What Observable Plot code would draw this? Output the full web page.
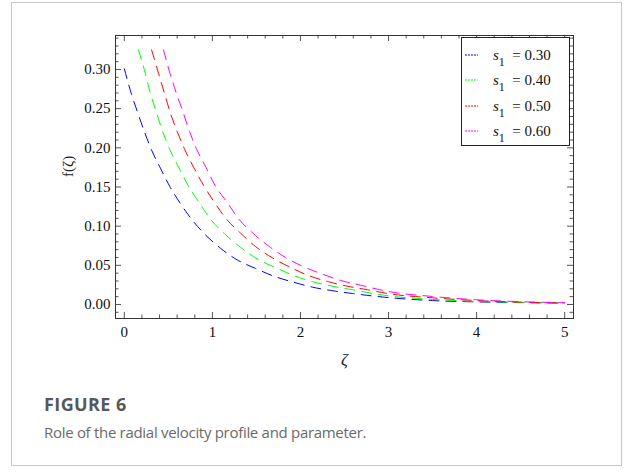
<!DOCTYPE html>
<html>
<head>
<meta charset="utf-8">
<script src="https://cdn.jsdelivr.net/npm/d3@7"></script>
<script src="https://cdn.jsdelivr.net/npm/@observablehq/plot@0.6"></script>
<style>
  body { margin: 0; background: #fff; }
  #wrap { position: relative; width: 624px; height: 472px; overflow: hidden; }
  #box { position: absolute; left: 11px; top: 2px; width: 611px; height: 464px; border: 1px solid #c8c8c8; box-sizing: border-box; }
  #chart { position: absolute; left: 0; top: 0; }
  #legend { position: absolute; left: 461px; top: 37px; width: 109px; height: 109px; border: 1px solid #222; box-sizing: border-box; background: #fff; font-family: "Liberation Serif", serif; font-size: 15px; color: #111; }
  .row { position: absolute; left: 0; height: 20px; line-height: 20px; white-space: nowrap; }
  .row svg { position: absolute; left: 3px; top: 9px; }
  .row .lab { position: absolute; left: 31px; top: 0; }
  .row sub { font-size: 12px; vertical-align: -6px; line-height: 0; }
  #fig { position: absolute; left: 44px; top: 396px; font-family: "Open Sans", sans-serif; font-weight: 700; font-size: 18px; line-height: 17px; letter-spacing: 0.4px; color: #585858; }
  #cap { position: absolute; left: 44px; top: 425px; font-family: "Open Sans", sans-serif; font-size: 15px; line-height: 15px; letter-spacing: -0.3px; color: #6a6a6a; }
</style>
</head>
<body>
<div id="wrap">
  <div id="box"></div>
  <div id="chart"></div>
  <div id="legend"></div>
  <div id="fig">FIGURE 6</div>
  <div id="cap">Role of the radial velocity profile and parameter.</div>
</div>
<script>
// ---- data ----
const seriesNames = ["0.30", "0.40", "0.50", "0.60"];
const seriesColors = ["#0000ff", "#00ff00", "#ff0000", "#ff00ff"];

const zetaS030 = [0, 0.08, 0.155, 0.23, 0.31, 0.41, 0.515, 0.636, 0.77, 0.92, 1.09, 1.28, 1.49, 1.70, 1.92, 2.14, 2.37, 2.59, 3.0, 3.5, 4.0, 4.5, 5.0];
const fS030    = [0.301, 0.269, 0.244, 0.220, 0.197, 0.174, 0.151, 0.129, 0.108, 0.089, 0.072, 0.057, 0.046, 0.036, 0.0285, 0.022, 0.0175, 0.014, 0.0088, 0.005, 0.0033, 0.0024, 0.0018];

const zetaS040 = [0.16, 0.24, 0.295, 0.364, 0.435, 0.52, 0.62, 0.73, 0.856, 0.985, 1.15, 1.32, 1.51, 1.72, 1.92, 2.14, 2.38, 2.59, 3.0, 3.5, 4.0, 4.5, 5.0];
const fS040    = [0.325, 0.2945, 0.270, 0.2455, 0.221, 0.197, 0.1745, 0.151, 0.129, 0.108, 0.089, 0.073, 0.058, 0.047, 0.037, 0.029, 0.023, 0.0188, 0.011, 0.0065, 0.0039, 0.0026, 0.0019];

const zetaS050 = [0.31, 0.39, 0.455, 0.52, 0.60, 0.69, 0.79, 0.90, 1.02, 1.16, 1.32, 1.49, 1.68, 1.88, 2.09, 2.32, 2.53, 2.76, 3.0, 3.5, 4.0, 4.5, 5.0];
const fS050    = [0.325, 0.2945, 0.270, 0.2455, 0.221, 0.197, 0.1745, 0.152, 0.131, 0.109, 0.091, 0.074, 0.0596, 0.0477, 0.037, 0.029, 0.0234, 0.0188, 0.0138, 0.0085, 0.005, 0.003, 0.002];

const zetaS060 = [0.445, 0.52, 0.59, 0.667, 0.74, 0.826, 0.93, 1.03, 1.17, 1.30, 1.46, 1.64, 1.83, 2.03, 2.25, 2.46, 2.68, 3.0, 3.5, 4.0, 4.5, 5.0];
const fS060    = [0.325, 0.2945, 0.270, 0.2455, 0.221, 0.197, 0.1745, 0.152, 0.130, 0.109, 0.091, 0.0745, 0.060, 0.0485, 0.0387, 0.0306, 0.0247, 0.0165, 0.0102, 0.006, 0.0036, 0.0022];

const xTickLabels = [0, 1, 2, 3, 4, 5];
const yTickLabels = [0.00, 0.05, 0.10, 0.15, 0.20, 0.25, 0.30];
const xLabel = "ζ";
const yLabel = "f(ζ)";

// ---- build ----
const zetas = [zetaS030, zetaS040, zetaS050, zetaS060];
const fs = [fS030, fS040, fS050, fS060];
const series = seriesNames.map((name, i) => ({
  name, color: seriesColors[i],
  rows: zetas[i].map((z, j) => ({z, f: fs[i][j]}))
}));

const xMinor = d3.range(0, 5.001, 0.2).map(v => +v.toFixed(1)).filter(v => !xTickLabels.includes(v));
const yMinor = d3.range(-0.01, 0.3401, 0.01).map(v => +v.toFixed(2)).filter(v => !yTickLabels.some(t => Math.abs(t - v) < 1e-9));

const W = 624, H = 380, mT = 35, mB = 62, mL = 115, mR = 51;
const FH = H - mT - mB, FW = W - mL - mR;
const tickColor = "#555";

const marks = [
  // ticks on all four sides, pointing inward
  Plot.tickX(xTickLabels, {x: d => d, insetTop: FH - 6, stroke: tickColor}),
  Plot.tickX(xTickLabels, {x: d => d, insetBottom: FH - 6, stroke: tickColor}),
  Plot.tickX(xMinor, {x: d => d, insetTop: FH - 3.5, stroke: tickColor}),
  Plot.tickX(xMinor, {x: d => d, insetBottom: FH - 3.5, stroke: tickColor}),
  Plot.tickY(yTickLabels, {y: d => d, insetRight: FW - 6, stroke: tickColor}),
  Plot.tickY(yTickLabels, {y: d => d, insetLeft: FW - 6, stroke: tickColor}),
  Plot.tickY(yMinor, {y: d => d, insetRight: FW - 3.5, stroke: tickColor}),
  Plot.tickY(yMinor, {y: d => d, insetLeft: FW - 3.5, stroke: tickColor}),
  Plot.axisX(xTickLabels, {tickSize: 0, tickPadding: 8, fontSize: 15, label: null, tickFormat: d => String(d), fill: "#111"}),
  Plot.axisY(yTickLabels, {tickSize: 0, tickPadding: 5, fontSize: 15, label: null, tickFormat: d3.format(".2f"), fill: "#111"}),
  ...series.map(s => Plot.line(s.rows, {x: "z", y: "f", stroke: s.color, strokeWidth: 1, strokeDasharray: "10,7", curve: "monotone-x"})),
  Plot.frame({stroke: "#333", strokeWidth: 1}),
  Plot.text([xLabel], {text: d => d, frameAnchor: "bottom", dy: 46, fontSize: 17, fontStyle: "italic", fill: "#222"}),
  Plot.text([yLabel], {text: d => d, frameAnchor: "left", dx: -47, rotate: -90, fontSize: 15, fill: "#222"})
];

const chart = Plot.plot({
  width: W, height: H,
  marginTop: mT, marginBottom: mB, marginLeft: mL, marginRight: mR,
  x: {domain: [-0.1, 5.1]},
  y: {domain: [-0.0179, 0.3434]},
  style: {fontFamily: "Liberation Serif, serif", fontSize: "15px", background: "transparent"},
  marks
});
document.getElementById("chart").appendChild(chart);

// legend
const legend = document.getElementById("legend");
series.forEach((s, i) => {
  const row = document.createElement("div");
  row.className = "row";
  row.style.top = (7 + i * 25.3) + "px";
  row.style.width = "100%";
  row.innerHTML = `<svg width="14" height="2"><line x1="0" y1="1" x2="13" y2="1" stroke="${s.color}" stroke-width="1.2" stroke-dasharray="2,1"/></svg>` +
    `<span class="lab"><i>s</i><sub>1</sub>&nbsp; = ${s.name}</span>`;
  legend.appendChild(row);
});
</script>
</body>
</html>
